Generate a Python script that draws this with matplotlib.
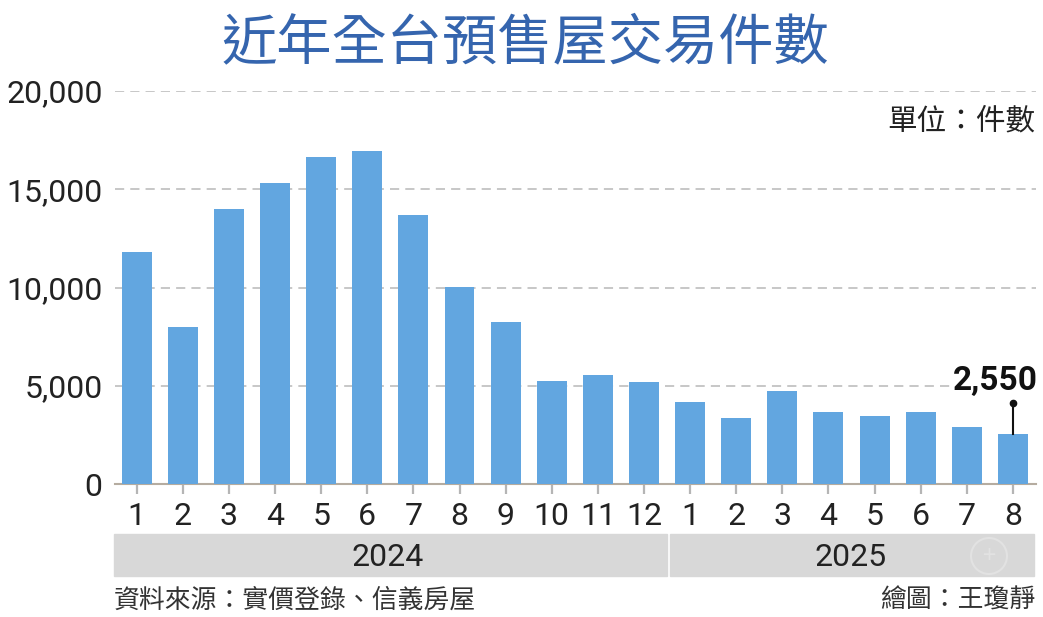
import numpy as np
import matplotlib.pyplot as plt
from matplotlib.patches import Rectangle, Circle

plt.rcParams['font.family'] = ['Noto Sans CJK TC', 'DejaVu Sans']
NUM_FONT = ['Roboto', 'Noto Sans CJK TC']

months = ['1', '2', '3', '4', '5', '6', '7', '8', '9', '10', '11', '12',
          '1', '2', '3', '4', '5', '6', '7', '8']
cases = [11800, 8000, 14000, 15300, 16650, 16950, 13700, 10050, 8250, 5250, 5550, 5200,
         4150, 3350, 4750, 3650, 3450, 3650, 2900, 2550]
yticks = [0, 5000, 10000, 15000, 20000]
years = ['2024', '2025']

W, H = 1043, 617
fig = plt.figure(figsize=(W / 100, H / 100), dpi=100)
ax = fig.add_axes([115 / W, 1 - 484 / H, (1036 - 115) / W, (484 - 91) / H])

x = np.arange(len(cases))
ax.bar(x, cases, width=0.65, color='#62a6e0', zorder=3)
ax.set_xlim(-0.47, 19.5)
ax.set_ylim(0, 20000)

ax.set_yticks(yticks)
ax.set_yticklabels(['{:,}'.format(v) for v in yticks], fontsize=23, color='#222222', family=NUM_FONT)
ax.set_xticks(x)
ax.set_xticklabels(months, fontsize=23, color='#222222', family=NUM_FONT)
ax.tick_params(axis='y', length=0, pad=9)
ax.tick_params(axis='x', length=7, width=1.6, color='#b5b5b5', pad=6)
ax.yaxis.grid(True, ls=(0, (6, 4)), color='#b8b8b8', lw=1.1, zorder=0)
ax.set_axisbelow(True)
for s in ['top', 'right', 'left']:
    ax.spines[s].set_visible(False)
ax.spines['bottom'].set_color('#b5aca0')
ax.spines['bottom'].set_linewidth(1.5)

# callout on the last bar
ax.plot([x[-1], x[-1]], [cases[-1], 4120], color='#111111', lw=1.5, zorder=4)
ax.plot([x[-1]], [4120], 'o', color='#111111', ms=4.5, zorder=4)
ax.text(x[-1] + 0.53, 4780, '{:,}'.format(cases[-1]), fontsize=24, fontweight='bold',
        ha='right', va='baseline', color='#111111', family=NUM_FONT,
        bbox=dict(facecolor='white', edgecolor='none', pad=1), zorder=5)

# year strips
fig.patches.append(Rectangle((114 / W, 1 - 576 / H), (667 - 114) / W, 42 / H,
                             transform=fig.transFigure, color='#d8d8d8'))
fig.patches.append(Rectangle((670 / W, 1 - 576 / H), (1034 - 670) / W, 42 / H,
                             transform=fig.transFigure, color='#d8d8d8'))
fig.text(388 / W, 1 - 558 / H, years[0], fontsize=23, ha='center', va='center',
         color='#222222', family=NUM_FONT)
fig.text(851 / W, 1 - 558 / H, years[1], fontsize=23, ha='center', va='center',
         color='#222222', family=NUM_FONT)

# faint zoom icon on the strip
fig.patches.append(Circle((989, H - 556), 18, transform=None, fill=False,
                          edgecolor='#e2e2e2', lw=1.5))
fig.text(989 / W, 1 - 556 / H, '+', fontsize=17, ha='center', va='center', color='#e2e2e2')

fig.text(525 / W, 1 - 44 / H, '近年全台預售屋交易件數', fontsize=39.8, fontweight='medium',
         ha='center', va='center', color='#3565ae')
fig.text(1035 / W, 1 - 121 / H, '單位：件數', fontsize=21.3, ha='right', va='center', color='#222222')
fig.text(114 / W, 1 - 600 / H, '資料來源：實價登錄、信義房屋', fontsize=18.6, ha='left', va='center', color='#333333')
fig.text(1035 / W, 1 - 600 / H, '繪圖：王瓊靜', fontsize=18.6, ha='right', va='center', color='#333333')

fig.savefig('out.png', dpi=100)
